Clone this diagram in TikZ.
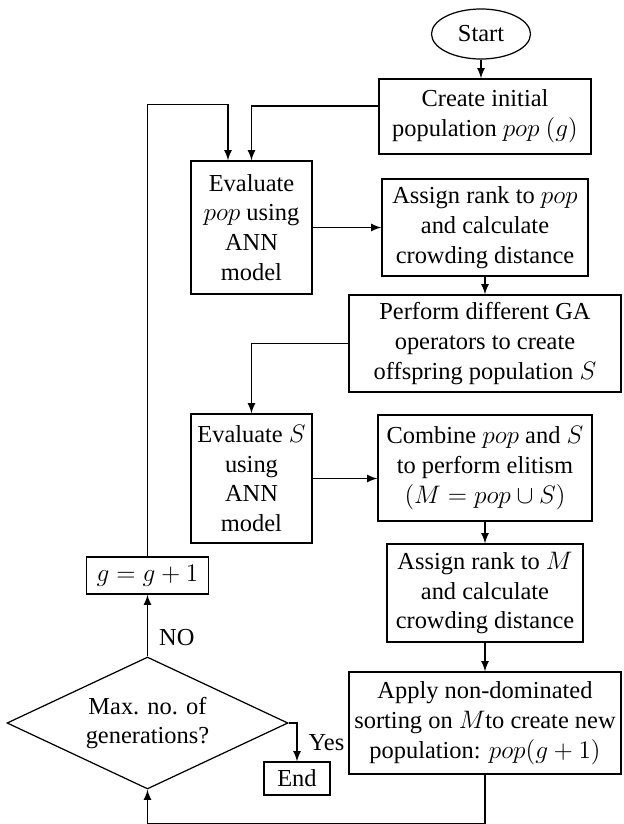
\documentclass[tikz,border=0pt]{standalone}
\usepackage{fontspec}
\setmainfont{Liberation Serif}
\usepackage{tikz}
\usetikzlibrary{arrows,shapes.geometric}

\begin{document}
\begin{tikzpicture}[node distance = 2.2cm, >=latex, font=\fontsize{13.9}{17}\selectfont]
	  \tikzstyle{terminal}=[ellipse,draw=black,line width=0.7pt,inner sep=0pt,
				  minimum width=1.98cm,minimum height=1cm]
	  \tikzstyle{process}=[rectangle,draw=black,line width=0.7pt,align=center,inner sep=2pt]
	  \tikzstyle{decision}=[diamond,draw=black,line width=0.7pt,align=center,inner sep=0pt,
				  aspect=2.13,minimum width=5.62cm,minimum height=2.64cm]
	  \tikzstyle{flow}=[->,line width=1pt]

	\useasboundingbox (-9.7,0.68) rectangle (2.76,-15.8);

	\node (start) [terminal,xshift=-0.08cm] {Start};
	\node (create) [process,minimum width=4.24cm,minimum height=1.5cm]
		[below of= start, node distance=1.65cm, xshift=0.08cm] {Create initial\\population $pop\ (g)$};
	\node (rank_pop) [process,minimum width=4.12cm,minimum height=1.94cm]
		[below of= create, node distance=2.22cm] {Assign rank to $pop$\\and calculate\\crowding distance};
	\node (eval_pop) [process,minimum width=2.42cm,minimum height=2.66cm]
		[left of= rank_pop, node distance=4.67cm] {Evaluate\\$pop$ using\\ANN\\model};
	\node (operators) [process,minimum width=5.44cm,minimum height=1.94cm]
		[below of= rank_pop, node distance=2.32cm] {Perform different GA\\operators to create\\offspring population $S$};
	\node (combine) [process,minimum width=4.28cm,minimum height=2.12cm]
		[below of= operators, node distance=2.49cm] {Combine $pop$ and $S$\\to perform elitism\\$(M = pop \cup S)$};
	\node (eval_s) [process,minimum width=2.42cm,minimum height=2.58cm]
		[left of= combine, node distance=4.67cm, yshift=-0.21cm] {Evaluate $S$\\using\\ANN\\model};
	\node (rank_m) [process,minimum width=3.92cm,minimum height=1.96cm]
		[below of= combine, node distance=2.5cm] {Assign rank to $M$\\and calculate\\crowding distance};
	\node (sorting) [process,minimum width=5.44cm,minimum height=2.04cm]
		[below of= rank_m, node distance=2.6cm] {Apply non-dominated\\sorting on $M$to create new\\population: $pop(g+1)$};
	\node (max_gen) [decision]
		[left of= sorting, node distance=6.75cm] {Max. no. of\\generations?};
	\node (next_gen) [process,minimum width=2.44cm,minimum height=0.74cm]
		[above of= max_gen, node distance=2.95cm] {$g = g + 1$};
	\node (stop) [process,minimum width=1.32cm,minimum height=0.66cm]
		[right of= max_gen, node distance=2.99cm, yshift=-1.11cm] {End};

	\draw [flow] (start) -- (start |- create.north);
	\draw [flow] ([yshift=0.21cm]create.west) -| (eval_pop.north);
	\draw [flow] (next_gen.north) |- ([xshift=-0.47cm,yshift=1.12cm]eval_pop.north) -- ([xshift=-0.47cm]eval_pop.north);
	\draw [flow] (eval_pop) -- (rank_pop);
	\draw [flow] (rank_pop) -- (operators);
	\draw [flow] (operators.west) -| (eval_s.north);
	\draw [flow] (eval_s.east) -- (eval_s.east -| combine.west);
	\draw [flow] (combine) -- (rank_m);
	\draw [flow] (rank_m) -- (sorting);
	\draw [flow] (sorting.south) -- ++(0,-0.98) -| (max_gen.south);
	\draw [flow] (max_gen.north) -- node[right,pos=0.3,xshift=0.1cm] {NO} (next_gen.south);
	\draw [flow] (max_gen.east) -| node[right,pos=0.75,xshift=0.1cm] {Yes} (stop.north);

\end{tikzpicture}
\end{document}
